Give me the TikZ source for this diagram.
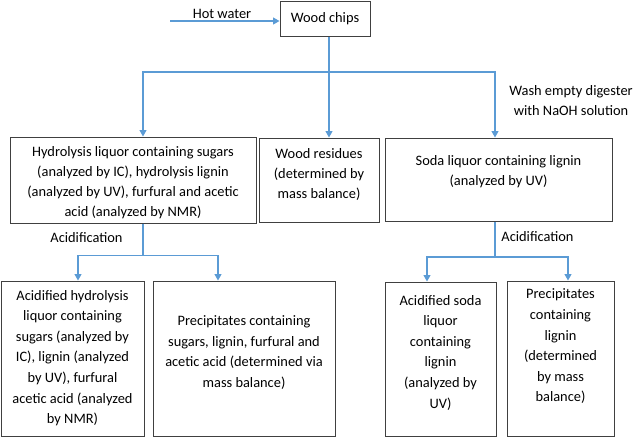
\documentclass[tikz,border=0pt]{standalone}
\usepackage{fontspec}
\setmainfont{Carlito}
\usetikzlibrary{arrows.meta,calc}
\definecolor{arrowblue}{HTML}{5B9BD5}
\definecolor{boxgray}{HTML}{404040}
\tikzset{
  box/.style={draw=boxgray, line width=1pt, rectangle, inner sep=0pt},
  txt/.style={align=center, inner sep=0pt, font=\fontsize{14.4}{20}\selectfont, text=black},
  txtb/.style={align=center, inner sep=0pt, font=\fontsize{14.4}{20.6}\selectfont, text=black},
  conn/.style={draw=arrowblue, line width=1.2pt},
  arr/.style={conn, -{Triangle[width=7pt,length=6.5pt]}}
}
\begin{document}
\begin{tikzpicture}[x=1pt,y=-1pt]
\useasboundingbox (0,0) rectangle (638,437);
% boxes
\node[box, minimum width=90pt, minimum height=35pt] (chips) at (325,18.5) {};
\node[txt] (chipsT) at (325,18.5) {Wood chips};
\node[box, minimum width=246pt, minimum height=86pt] (hyd) at (133,180) {};
\node[txt] (hydT) at (133,183) {Hydrolysis liquor containing sugars\\(analyzed by IC), hydrolysis lignin\\(analyzed by UV), furfural and acetic\\acid (analyzed by NMR)};
\node[box, minimum width=120pt, minimum height=84pt] (res) at (319,180) {};
\node[txt] (resT) at (319,174) {Wood residues\\(determined by\\mass balance)};
\node[box, minimum width=227pt, minimum height=83pt] (soda) at (498.5,179.5) {};
\node[txt] (sodaT) at (498.5,172) {Soda liquor containing lignin\\(analyzed by UV)};
\node[box, minimum width=143pt, minimum height=155pt] (ahyd) at (72.5,358.5) {};
\node[txtb] (ahydT) at (72.5,358) {Acidified hydrolysis\\liquor containing\\sugars (analyzed by\\IC), lignin (analyzed\\by UV), furfural\\acetic acid (analyzed\\by NMR)};
\node[box, minimum width=182pt, minimum height=155pt] (prec) at (244,358.5) {};
\node[txtb] (precT) at (244,352.5) {Precipitates containing\\sugars, lignin, furfural and\\acetic acid (determined via\\mass balance)};
\node[box, minimum width=111pt, minimum height=154pt] (asoda) at (440.5,359) {};
\node[txtb] (asodaT) at (440.5,352.5) {Acidified soda\\liquor\\containing\\lignin\\(analyzed by\\UV)};
\node[box, minimum width=107pt, minimum height=155pt] (precb) at (560.5,358.5) {};
\node[txtb] (precbT) at (560.5,346.5) {Precipitates\\containing\\lignin\\(determined\\by mass\\balance)};
% labels
\node[txt] (hot) at (222,13.5) {Hot water};
\node[txt] (wash) at (571,101) {Wash empty digester\\with NaOH solution};
\node[txt] (acl) at (86.5,237.5) {Acidification};
\node[txt] (acr) at (537.5,236.5) {Acidification};
% connectors
\coordinate (hotS) at (170,21);
\draw[arr] (hotS) -- (hotS -| chips.west);
\coordinate (jtop) at (329,72);
\draw[arr] (chips.south -| jtop) -- (jtop |- res.north);
\draw[arr] (jtop) -| (143,0 |- hyd.north);
\draw[arr] (jtop) -| (495,0 |- soda.north);
% hydrolysis acidification
\coordinate (jl) at (143,255.5);
\draw[conn] (hyd.south -| jl) -- (jl);
\draw[arr] (jl) -| (78,0 |- ahyd.north);
\draw[arr] (jl) -| (218,0 |- prec.north);
% soda acidification
\coordinate (jr) at (495,257);
\draw[conn] (soda.south -| jr) -- (jr);
\draw[arr] (jr) -| (427,0 |- asoda.north);
\draw[arr] (jr) -| (568,0 |- precb.north);
\end{tikzpicture}
\end{document}
